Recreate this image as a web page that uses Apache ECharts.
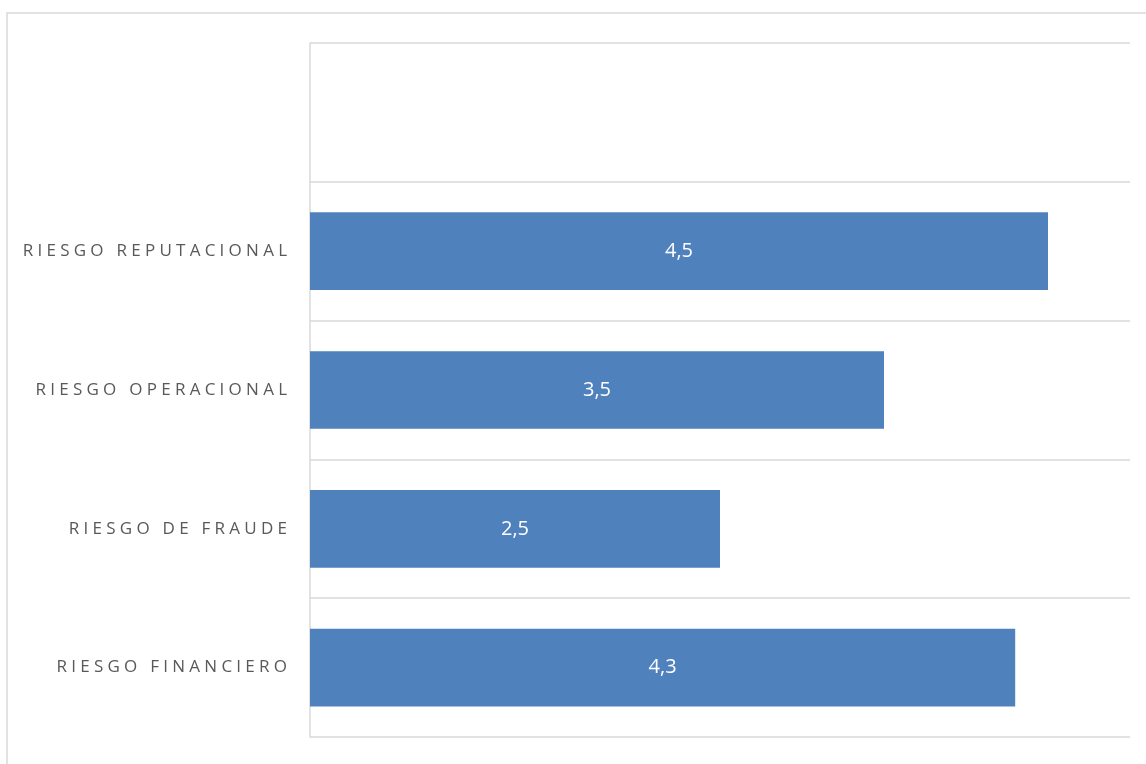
<!DOCTYPE html>
<html>
<head>
<meta charset="utf-8">
<script src="https://cdn.jsdelivr.net/npm/echarts@6/dist/echarts.min.js"></script>
<style>
  html, body { margin: 0; padding: 0; background: #fff; }
  #main { width: 1146px; height: 764px; }
</style>
</head>
<body>
<div id="main"></div>
<script>
// categories bottom -> top, the top slot is empty in the original
var categories = ['RIESGO FINANCIERO', 'RIESGO DE FRAUDE', 'RIESGO OPERACIONAL', 'RIESGO REPUTACIONAL', ''];
var values = [4.3, 2.5, 3.5, 4.5, null];
var valueMax = 5;

var chart = echarts.init(document.getElementById('main'));

// spread letters out like the original (letter-spaced caps)
function spaced(txt) {
  return txt.split('').join('\u2005');
}

var option = {
  animation: false,
  backgroundColor: '#ffffff',
  graphic: [{
    type: 'rect',
    shape: { x: 7, y: 13, width: 1200, height: 800 },
    style: { fill: 'none', stroke: '#d9d9d9', lineWidth: 1.5 },
    silent: true
  }],
  grid: { left: 310, top: 43, right: 16, bottom: 27 },
  xAxis: {
    type: 'value',
    min: 0,
    max: valueMax,
    axisLine: { show: false },
    axisTick: { show: false },
    axisLabel: { show: false },
    splitLine: { show: false }
  },
  yAxis: {
    type: 'category',
    data: categories,
    axisLine: { show: true, lineStyle: { color: '#d9d9d9', width: 1.5 } },
    axisTick: { show: false },
    axisLabel: {
      margin: 23,
      color: '#595959',
      fontFamily: 'Open Sans',
      fontSize: 17,
      formatter: function (v) { return spaced(v); }
    },
    splitLine: { show: true, interval: 0, lineStyle: { color: '#d9d9d9', width: 1.5 } }
  },
  series: [{
    type: 'bar',
    data: values,
    barWidth: '56%',
    itemStyle: { color: '#4f81bd' },
    label: {
      show: true,
      position: 'inside',
      color: '#ffffff',
      fontFamily: 'Open Sans',
      fontSize: 20,
      formatter: function (p) { return String(p.value).replace('.', ','); }
    }
  }]
};

chart.setOption(option);
</script>
</body>
</html>
